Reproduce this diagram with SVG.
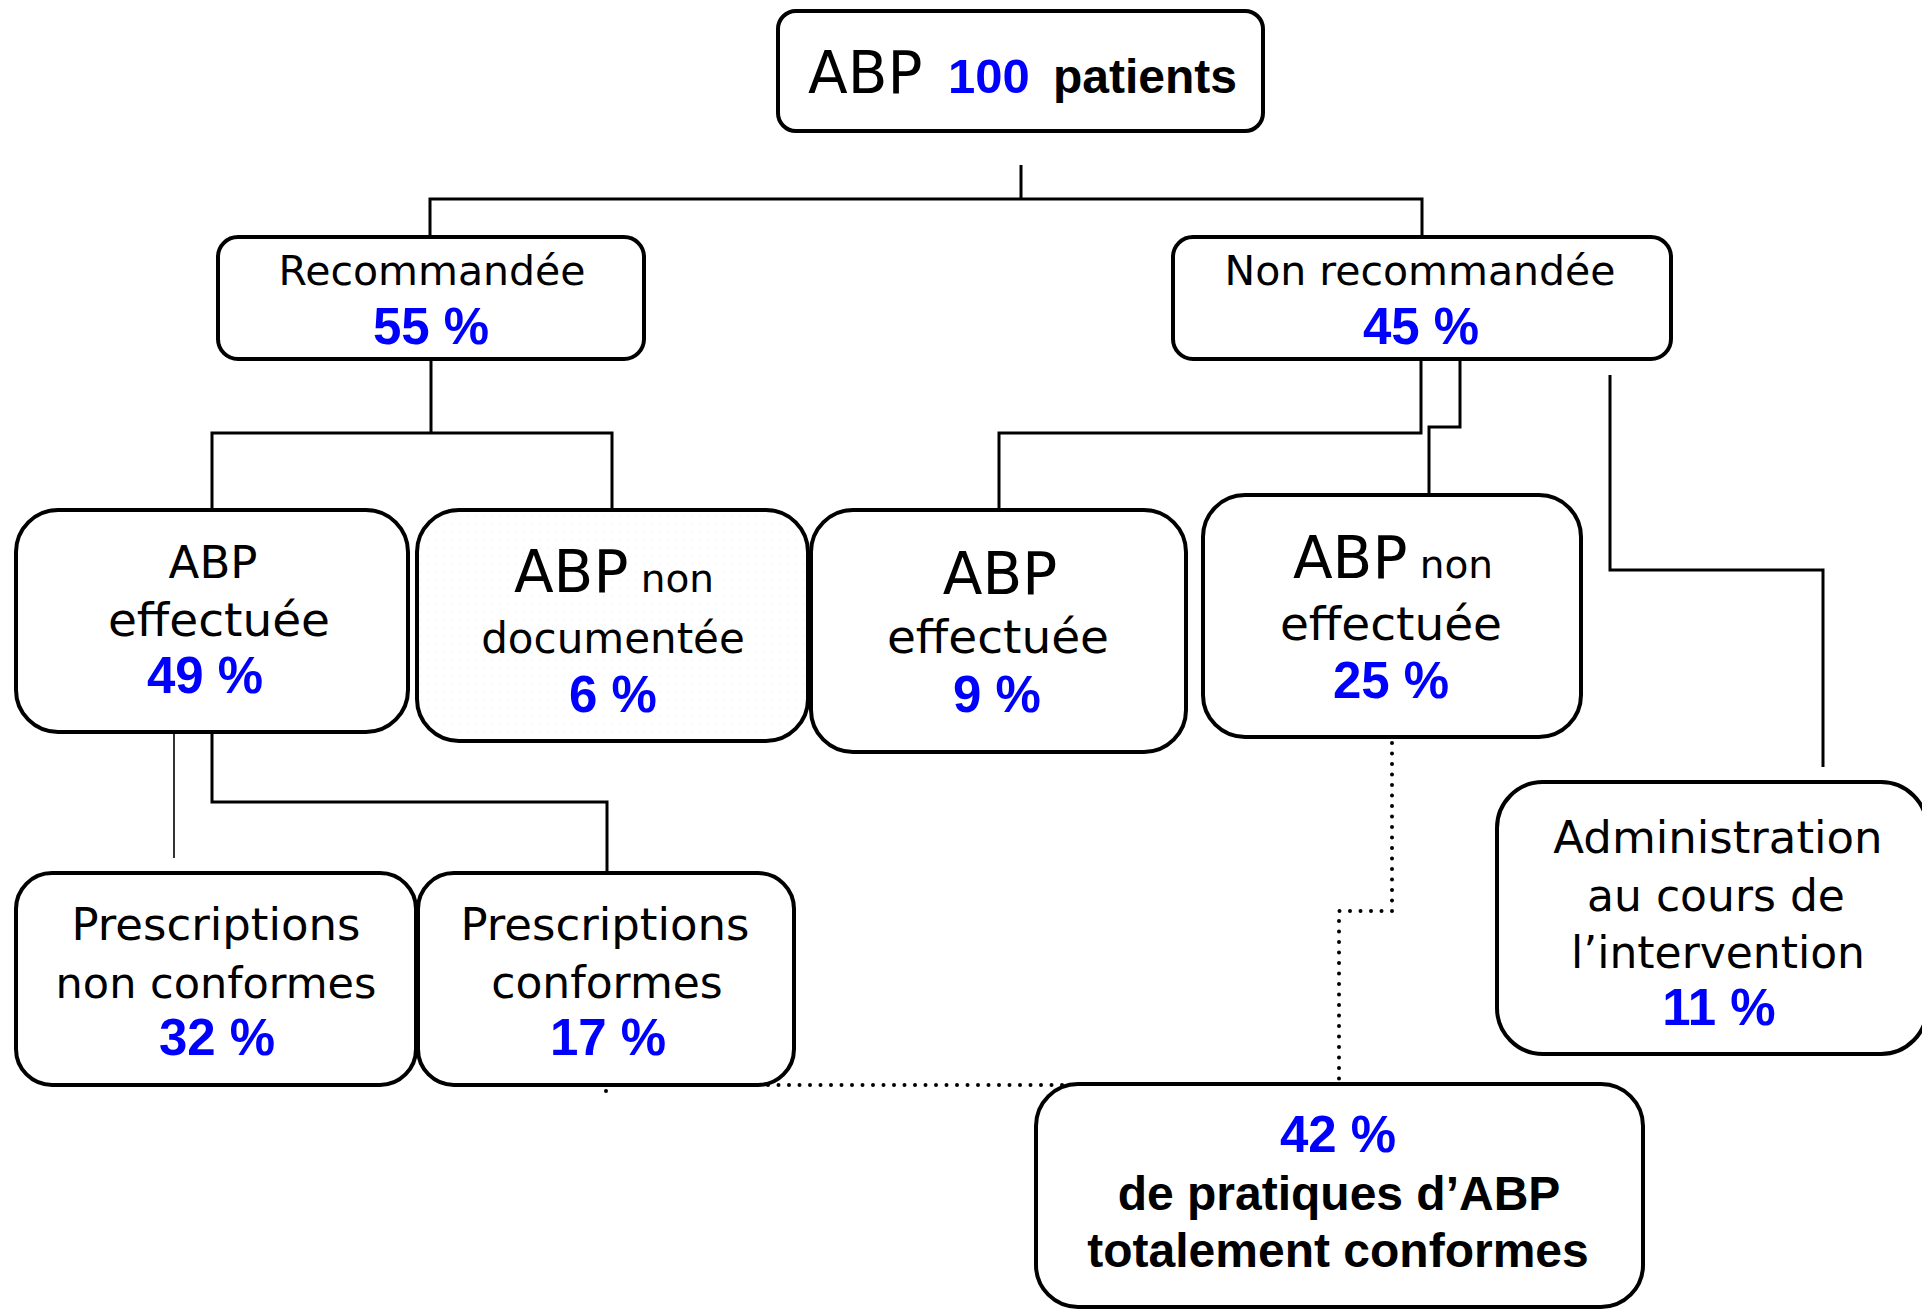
<svg xmlns="http://www.w3.org/2000/svg" width="1922" height="1310" viewBox="0 0 1922 1310">
<style>
.box{fill:#fff;stroke:#000;stroke-width:4}
.ln{fill:none;stroke:#000;stroke-width:3}
.thin{fill:none;stroke:#000;stroke-width:1.6}
.dot{fill:none;stroke:#000;stroke-width:4;stroke-linecap:round;stroke-dasharray:0 10.5}
.r{font-family:"DejaVu Sans",sans-serif;fill:#000;text-anchor:middle}
.b{font-family:"Liberation Sans",Arial,sans-serif;font-weight:bold;text-anchor:middle}
.pc{font-family:"Liberation Sans",Arial,sans-serif;font-weight:bold;fill:#0000ff;font-size:51px;text-anchor:middle}
</style>
<defs>
<pattern id="faint" width="8" height="8" patternUnits="userSpaceOnUse">
<rect width="8" height="8" fill="#fff"/>
<circle cx="4" cy="4" r="0.6" fill="#e4ecec"/>
</pattern>
</defs>
<rect width="1922" height="1310" fill="#fff"/>
<g id="connectors">
<path class="ln" d="M1021,165 V199"/>
<path class="ln" d="M430,237 V199 H1422 V237"/>
<path class="ln" d="M431,359 V433"/>
<path class="ln" d="M212,510 V433 H612 V510"/>
<path class="ln" d="M1421,359 V433 H999 V510"/>
<path class="ln" d="M1460,359 V427 H1429 V495"/>
<path class="ln" d="M1610,375 V570 H1823 V767"/>
<path class="thin" d="M174,732 V858"/>
<path class="ln" d="M212,732 V802 H607 V873"/>
<path class="dot" d="M606,1091 V1085 H1339 V911 H1392 V738"/>
</g>
<g id="n-top">
<rect class="box" x="778" y="11" width="485" height="120" rx="18"/>
<text y="93"><tspan x="808" font-family="DejaVu Sans,sans-serif" font-size="58">ABP</tspan><tspan x="948" font-family="Liberation Sans,Arial,sans-serif" font-weight="bold" font-size="49" fill="#0000ff">100</tspan><tspan x="1053" font-family="Liberation Sans,Arial,sans-serif" font-weight="bold" font-size="48">patients</tspan></text>
</g>
<g id="n-rec">
<rect class="box" x="218" y="237" width="426" height="122" rx="20"/>
<text class="r" x="432" y="285" font-size="41">Recommandée</text>
<text class="pc" x="431" y="344">55 %</text>
</g>
<g id="n-nonrec">
<rect class="box" x="1173" y="237" width="498" height="122" rx="20"/>
<text class="r" x="1420" y="285" font-size="41">Non recommandée</text>
<text class="pc" x="1421" y="344">45 %</text>
</g>
<g id="n-eff49">
<rect class="box" x="16" y="510" width="392" height="222" rx="42"/>
<text class="r" x="213" y="578" font-size="45">ABP</text>
<text class="r" x="219" y="636" font-size="47">effectuée</text>
<text class="pc" x="205" y="693">49 %</text>
</g>
<g id="n-nondoc">
<rect class="box" x="417" y="510" width="391" height="231" rx="42" style="fill:url(#faint)"/>
<text class="r" x="614" y="592"><tspan font-size="58">ABP</tspan><tspan font-size="39"> non</tspan></text>
<text class="r" x="613" y="653" font-size="42">documentée</text>
<text class="pc" x="613" y="712">6 %</text>
</g>
<g id="n-eff9">
<rect class="box" x="811" y="510" width="375" height="242" rx="42"/>
<text class="r" x="1000" y="594" font-size="58">ABP</text>
<text class="r" x="998" y="653" font-size="47">effectuée</text>
<text class="pc" x="997" y="712">9 %</text>
</g>
<g id="n-noneff">
<rect class="box" x="1203" y="495" width="378" height="242" rx="42"/>
<text class="r" x="1393" y="578"><tspan font-size="58">ABP</tspan><tspan font-size="39"> non</tspan></text>
<text class="r" x="1391" y="640" font-size="47">effectuée</text>
<text class="pc" x="1391" y="698">25 %</text>
</g>
<g id="n-presc-nc">
<rect class="box" x="16" y="873" width="400" height="212" rx="36"/>
<text class="r" x="216" y="940" font-size="45">Prescriptions</text>
<text class="r" x="216" y="998" font-size="43">non conformes</text>
<text class="pc" x="217" y="1055">32 %</text>
</g>
<g id="n-presc-c">
<rect class="box" x="418" y="873" width="376" height="212" rx="36"/>
<text class="r" x="605" y="940" font-size="45">Prescriptions</text>
<text class="r" x="607" y="998" font-size="44">conformes</text>
<text class="pc" x="608" y="1055">17 %</text>
</g>
<g id="n-admin">
<rect class="box" x="1497" y="782" width="430" height="272" rx="46"/>
<text class="r" x="1718" y="853" font-size="45">Administration</text>
<text class="r" x="1716" y="911" font-size="44">au cours de</text>
<text class="r" x="1718" y="968" font-size="44">l’intervention</text>
<text class="pc" x="1719" y="1025">11 %</text>
</g>
<g id="n-total">
<rect class="box" x="1036" y="1084" width="607" height="223" rx="42"/>
<text class="pc" x="1338" y="1152">42 %</text>
<text class="b" x="1339" y="1210" font-size="48">de pratiques d’ABP</text>
<text class="b" x="1338" y="1267" font-size="48">totalement conformes</text>
</g>
</svg>
